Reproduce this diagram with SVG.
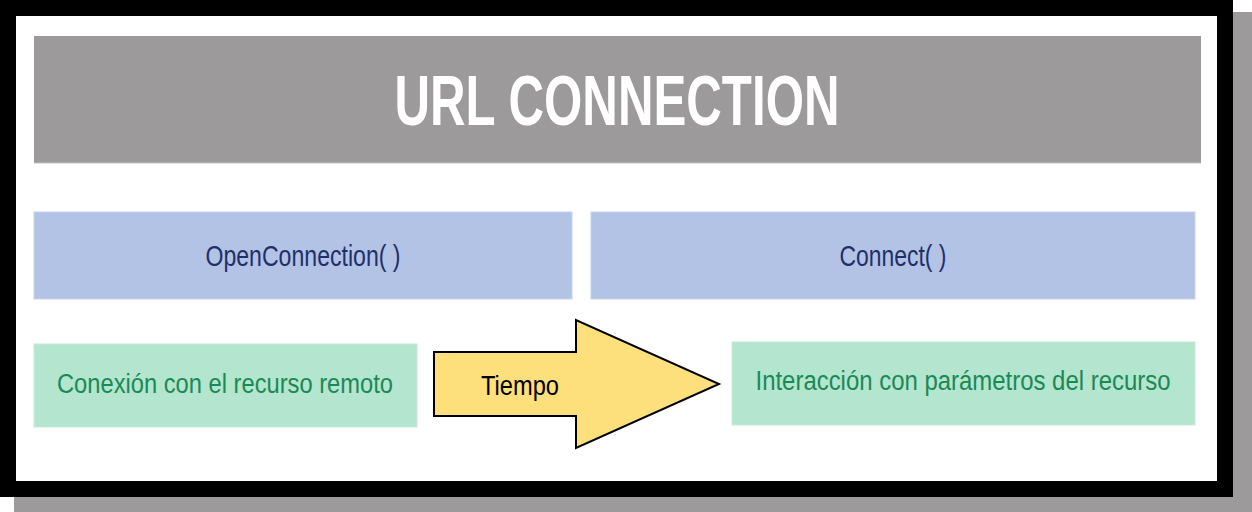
<svg xmlns="http://www.w3.org/2000/svg" width="1252" height="512" viewBox="0 0 1252 512">
<style>
.t{font-family:"Liberation Sans",Arial,sans-serif;text-anchor:middle}
.title{font-size:70px;font-weight:bold;fill:#ffffff}
.blue{fill:#b3c3e6;stroke:#c6d2ee;stroke-width:1}
.green{fill:#b4e5cf;stroke:#c4ebd9;stroke-width:1}
.bt{font-size:30px;fill:#1f3068}
.gt{font-size:27px;fill:#1a8a55}
</style>
<rect x="14" y="12" width="1238" height="500" fill="#9c9a9a"/>
<rect x="0" y="0" width="1233" height="497" fill="#000000"/>
<rect x="16" y="16" width="1201" height="465" fill="#ffffff"/>
<g id="title">
<rect x="34" y="36" width="1167" height="127" fill="#9c9a9a"/>
<line x1="34" y1="163" x2="1201" y2="163" stroke="#c4c4c4" stroke-width="1"/>
<text class="t title" x="617" y="125" textLength="445" lengthAdjust="spacingAndGlyphs">URL CONNECTION</text>
</g>
<g id="openconnection">
<rect class="blue" x="34" y="212" width="538" height="87"/>
<text class="t bt" x="303" y="266" textLength="195" lengthAdjust="spacingAndGlyphs">OpenConnection( )</text>
</g>
<g id="connect">
<rect class="blue" x="591" y="212" width="604" height="87"/>
<text class="t bt" x="893" y="266" textLength="107" lengthAdjust="spacingAndGlyphs">Connect( )</text>
</g>
<g id="conexion">
<rect class="green" x="34" y="344" width="383" height="83"/>
<text class="t gt" x="225" y="393" textLength="336" lengthAdjust="spacingAndGlyphs">Conexión con el recurso remoto</text>
</g>
<g id="interaccion">
<rect class="green" x="732" y="342" width="463" height="83"/>
<text class="t gt" x="963" y="390" textLength="415" lengthAdjust="spacingAndGlyphs">Interacción con parámetros del recurso</text>
</g>
<g id="connectors">
<g id="tiempo">
<polygon points="434,352 576,352 576,320 719,384 576,448 576,416 434,416" fill="#fde07c" stroke="#000000" stroke-width="2" stroke-linejoin="miter"/>
<text class="t" x="520" y="395" font-size="28" fill="#000000" textLength="78" lengthAdjust="spacingAndGlyphs">Tiempo</text>
</g>
</g>
</svg>
